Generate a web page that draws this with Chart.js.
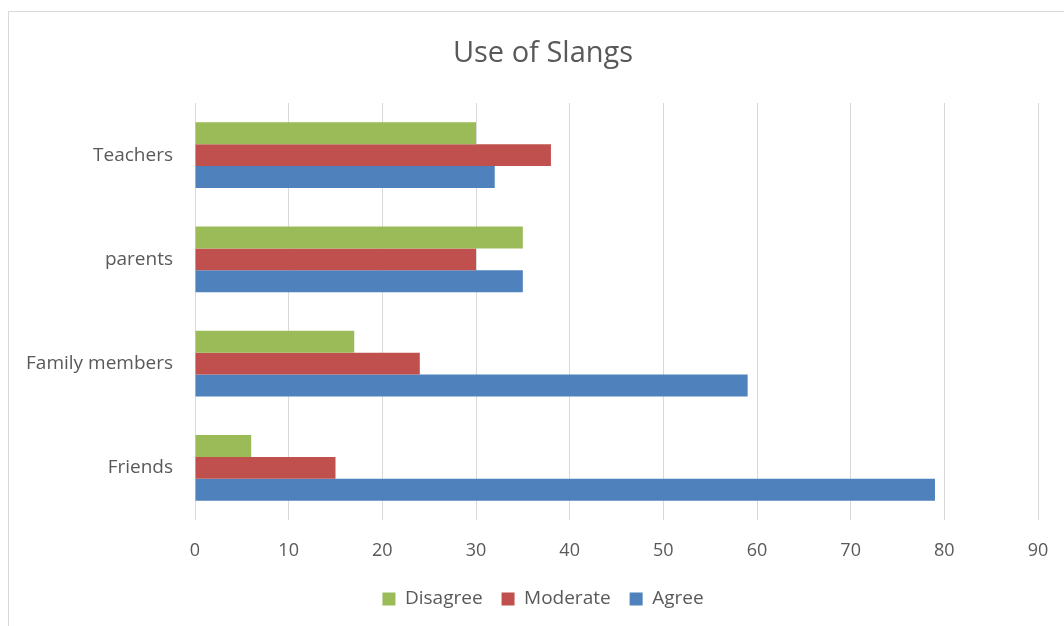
<!DOCTYPE html>
<html>
<head>
    <title>Use of Slangs</title>
    <script src="https://cdn.jsdelivr.net/npm/chart.js"></script>
    <style>
        body { margin: 0; overflow: hidden; background: #fff; }
        #box {
            position: absolute; left: 8px; top: 11px;
            border-left: 1px solid #d9d9d9; border-top: 1px solid #d9d9d9;
        }
    </style>
</head>
<body>
    <div id="box"><canvas id="slangChart" width="1068" height="614"></canvas></div>

    <script>
        // categories top to bottom
        var categories = ["Teachers", "parents", "Family members", "Friends"];

        // answers per category
        var disagree = [30, 35, 17, 6];
        var moderate = [38, 30, 24, 15];
        var agree = [32, 35, 59, 79];

        var xMin = 0, xMax = 90, xStep = 10;

        Chart.defaults.font.family = "'Open Sans', sans-serif";
        Chart.defaults.color = "#595959";

        var ctx = document.getElementById("slangChart").getContext("2d");

        var chart = new Chart(ctx, {
            type: "bar",
            data: {
                labels: categories,
                datasets: [
                    { label: "Disagree", data: disagree, backgroundColor: "#9bbb59" },
                    { label: "Moderate", data: moderate, backgroundColor: "#c0504d" },
                    { label: "Agree", data: agree, backgroundColor: "#4f81bd" }
                ]
            },
            options: {
                indexAxis: "y",
                responsive: false,
                animation: false,
                categoryPercentage: 0.63,
                barPercentage: 1,
                layout: { padding: { left: 0, right: 0, top: 0, bottom: 7.5 } },
                plugins: {
                    title: {
                        display: true,
                        text: "Use of Slangs",
                        color: "#595959",
                        font: { size: 29, weight: "normal" },
                        padding: { top: 24.6, bottom: 31.6 }
                    },
                    legend: {
                        position: "bottom",
                        labels: {
                            boxWidth: 13,
                            boxHeight: 13,
                            padding: 19,
                            font: { size: 19 }
                        }
                    },
                    tooltip: { enabled: false }
                },
                scales: {
                    x: {
                        min: xMin,
                        max: xMax,
                        ticks: { stepSize: xStep, padding: 20, font: { size: 18 } },
                        grid: { color: "#d9d9d9", drawTicks: false },
                        border: { display: false },
                        afterFit: function(scale) { scale.height = 50.5; }
                    },
                    y: {
                        ticks: { padding: 22, font: { size: 19 } },
                        grid: { display: false, drawTicks: false },
                        border: { display: false },
                        afterFit: function(scale) { scale.width = 186; }
                    },
                    // empty space on the right, so title and legend stay centred on the whole box
                    yRight: {
                        position: "right",
                        ticks: { display: false },
                        grid: { display: false, drawTicks: false },
                        border: { display: false },
                        afterFit: function(scale) { scale.width = 39; }
                    }
                }
            }
        });
    </script>
</body>
</html>
